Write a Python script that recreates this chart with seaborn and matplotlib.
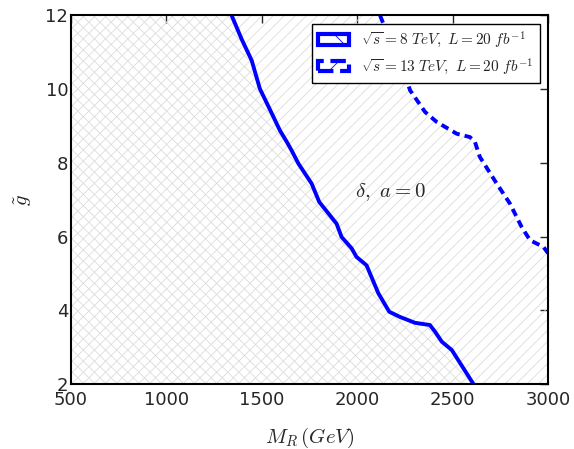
import numpy as np
import pandas as pd
import seaborn as sns
import matplotlib.pyplot as plt
from matplotlib.patches import Patch

# exclusion contour, sqrt(s)=8 TeV
mr_8 = [1342, 1395, 1447, 1490, 1547, 1595, 1631, 1656, 1692, 1761, 1801, 1892, 1918,
        1971, 1996, 2049, 2111, 2168, 2224, 2303, 2381, 2408, 2443, 2496, 2609]
g_8 = [12.0, 11.35, 10.78, 10.01, 9.4, 8.88, 8.57, 8.34, 7.98, 7.44, 6.94, 6.35, 5.99,
       5.68, 5.45, 5.22, 4.46, 3.96, 3.82, 3.66, 3.60, 3.42, 3.15, 2.92, 2.0]

# exclusion contour, sqrt(s)=13 TeV
mr_13 = [2120, 2172, 2224, 2260, 2277, 2356, 2417, 2522, 2591, 2617, 2643, 2731,
         2800, 2862, 2906, 2976, 3000]
g_13 = [12.0, 11.32, 10.51, 10.24, 9.97, 9.38, 9.11, 8.79, 8.70, 8.57, 8.16, 7.44,
        6.90, 6.26, 5.90, 5.72, 5.55]

lab_8 = r"$\sqrt{s}=8\ TeV,\ L=20\ fb^{-1}$"
lab_13 = r"$\sqrt{s}=13\ TeV,\ L=20\ fb^{-1}$"

sns.set_style("white")
plt.rcParams['mathtext.fontset'] = 'cm'
plt.rcParams['font.family'] = ['DejaVu Sans']
plt.rcParams['hatch.linewidth'] = 0.6

fig = plt.figure(figsize=(5.74, 4.49), dpi=100)
ax = fig.add_axes([0.1237, 0.1448, 0.831, 0.8207])

# hatched excluded regions (13 TeV region runs down to the bottom-right corner)
ax.fill_betweenx(g_13 + [2.0], 500, mr_13 + [3000], facecolor='none', edgecolor='#dcdcdc',
                 hatch='///', linewidth=0)
ax.fill_betweenx(g_8, 500, mr_8, facecolor='none', edgecolor='#dcdcdc', hatch='\\\\\\', linewidth=0)

df8 = pd.DataFrame({'mr': mr_8, 'g': g_8})
df13 = pd.DataFrame({'mr': mr_13, 'g': g_13})
sns.lineplot(data=df8, x='mr', y='g', sort=False, estimator=None, color='blue', lw=2.8, ax=ax)
sns.lineplot(data=df13, x='mr', y='g', sort=False, estimator=None, color='blue', lw=2.8,
             ax=ax, linestyle=(0, (2, 1.3)))

ax.set_xlim(500, 3000)
ax.set_ylim(2, 12)
ax.set_xticks(np.arange(500, 3001, 500))
ax.set_yticks(np.arange(2, 13, 2))
ax.tick_params(direction='in', top=True, right=True, length=6, width=1, labelsize=13)
ax.tick_params(axis='x', pad=5)
ax.tick_params(axis='y', pad=2)
for s in ax.spines.values():
    s.set_linewidth(1.5)
    s.set_color('black')

ax.set_xlabel(r"$M_R\,(GeV)$", fontsize=15, labelpad=12)
ax.set_ylabel(r"$\tilde{g}$", fontsize=15, labelpad=8)
ax.text(2172, 7.2, r"$\delta,\ a=0$", fontsize=15, ha='center', va='center')

handles = [
    Patch(facecolor='white', edgecolor='blue', lw=3, hatch='\\'),
    Patch(facecolor='white', edgecolor='blue', lw=3, hatch='/', linestyle='--'),
]
leg = ax.legend(handles, [lab_8, lab_13], loc='upper right', fontsize=11, frameon=True,
                fancybox=False, framealpha=1, borderaxespad=0.55, handlelength=2.0,
                borderpad=0.4, labelspacing=0.4)
leg.get_frame().set_edgecolor('black')
leg.get_frame().set_linewidth(1)

fig.savefig('out.png', dpi=100)
